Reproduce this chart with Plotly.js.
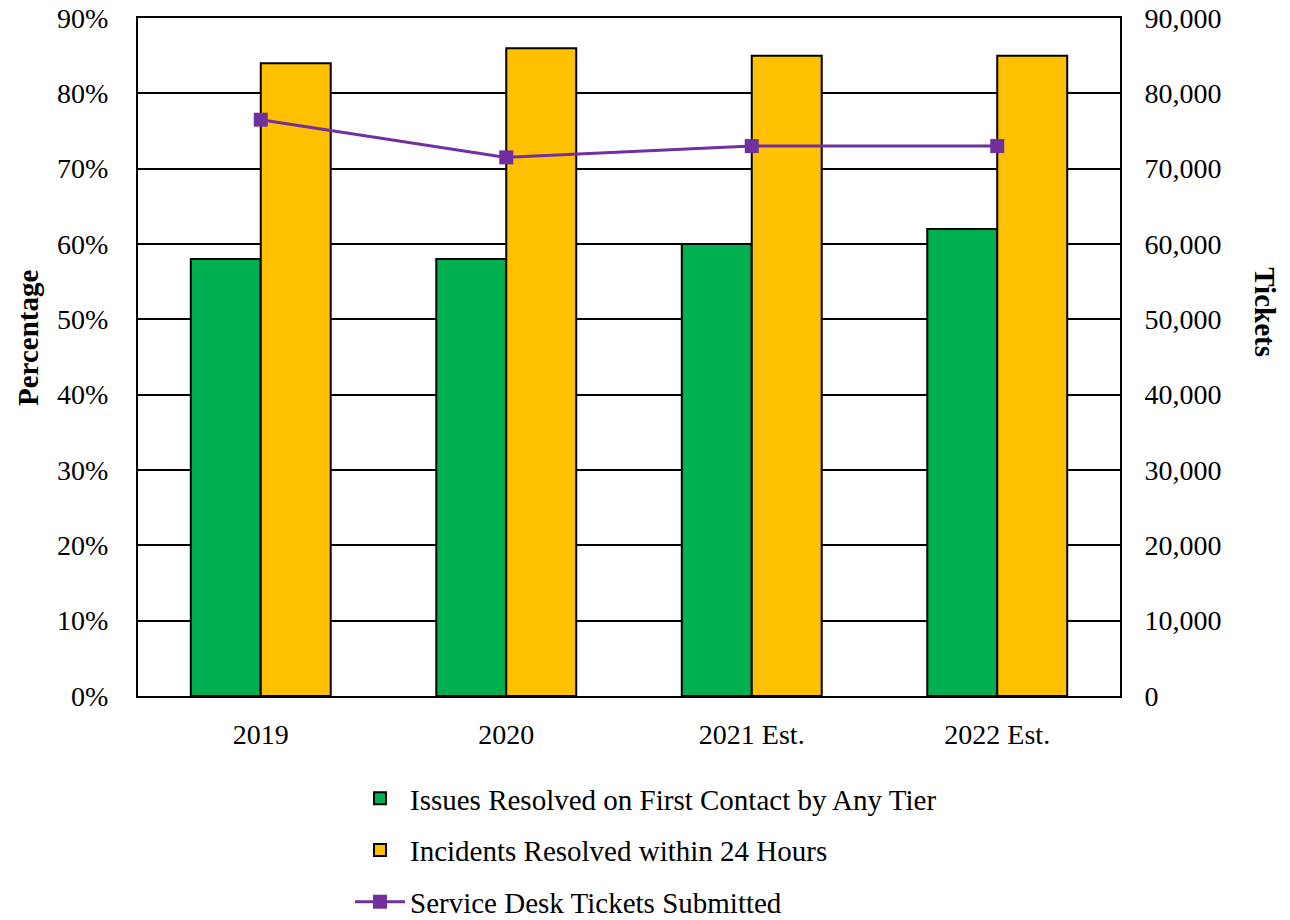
<!DOCTYPE html>
<html><head><meta charset="utf-8">
<script src="https://cdn.plot.ly/plotly-3.0.1.min.js"></script>
<style>body{margin:0;background:#fff}#c{width:1290px;height:920px}</style>
</head><body><div id="c"></div>
<script>
const categories = ["2019", "2020", "2021 Est.", "2022 Est."];
const firstContact = [58, 58, 60, 62];
const within24h = [84, 86, 85, 85];
const tickets = [76500, 71500, 73000, 73000];
const pctTicks = [0,10,20,30,40,50,60,70,80,90];
const pctLabels = pctTicks.map(v => v + "%");
const ticketTicks = [0,10000,20000,30000,40000,50000,60000,70000,80000,90000];

const fam = "Liberation Serif, Times New Roman, serif";
const tickFont = {family: fam, size: 28, color: "#000"};
const legFont = {family: fam, size: 29, color: "#000"};
const titleFont = {family: fam, size: 29, color: "#000"};

const traces = [
  {type: "bar", name: "Issues Resolved on First Contact by Any Tier", x: categories, y: firstContact,
   marker: {color: "#00B050", line: {color: "#000", width: 2}}, legendgroup: "a", hoverinfo: "skip"},
  {type: "bar", name: "Incidents Resolved within 24 Hours", x: categories, y: within24h,
   marker: {color: "#FFC000", line: {color: "#000", width: 2}}, legendgroup: "b", hoverinfo: "skip"},
  {type: "scatter", mode: "lines+markers", name: "Service Desk Tickets Submitted", x: categories, y: tickets,
   yaxis: "y2", line: {color: "#7030A0", width: 3}, marker: {symbol: "square", size: 14, color: "#7030A0"},
   legendgroup: "c", hoverinfo: "skip"}
];

const layout = {
  width: 1290, height: 920,
  margin: {l: 138, r: 170, t: 18, b: 224, autoexpand: false},
  paper_bgcolor: "#fff", plot_bgcolor: "#fff",
  font: tickFont,
  barmode: "group", bargap: 0.43, bargroupgap: 0,
  showlegend: true,
  legend: {orientation: "v", x: 0.2159, xanchor: "left", y: -0.1135, yanchor: "top",
           traceorder: "grouped", tracegroupgap: 11, itemwidth: 50, font: legFont, bgcolor: "rgba(0,0,0,0)"},
  xaxis: {type: "category", showline: true, linecolor: "#000", linewidth: 2, mirror: true,
          ticks: "", tickfont: tickFont, ticklabelstandoff: 12, showgrid: false, zeroline: false},
  yaxis: {range: [0, 90], tickvals: pctTicks, ticktext: pctLabels, showgrid: true, gridcolor: "#000", gridwidth: 2,
          showline: true, linecolor: "#000", linewidth: 2, ticks: "", tickfont: tickFont, ticklabelstandoff: 22,
          zeroline: false},
  yaxis2: {overlaying: "y", side: "right", range: [0, 90000], tickvals: ticketTicks,
           tickformat: ",d", showgrid: false, showline: true, linecolor: "#000", linewidth: 2, ticks: "",
           tickfont: tickFont, ticklabelstandoff: 17, zeroline: false},
  annotations: [
    {text: "<b>Percentage</b>", xref: "paper", yref: "paper", x: 0, xshift: -110, y: 0.528,
     xanchor: "center", yanchor: "middle", textangle: -90, showarrow: false, font: titleFont},
    {text: "<b>Tickets</b>", xref: "paper", yref: "paper", x: 1.0, xshift: 145, y: 0.566,
     xanchor: "center", yanchor: "middle", textangle: 90, showarrow: false, font: titleFont}
  ]
};

Plotly.newPlot("c", traces, layout, {staticPlot: true});
</script></body></html>
